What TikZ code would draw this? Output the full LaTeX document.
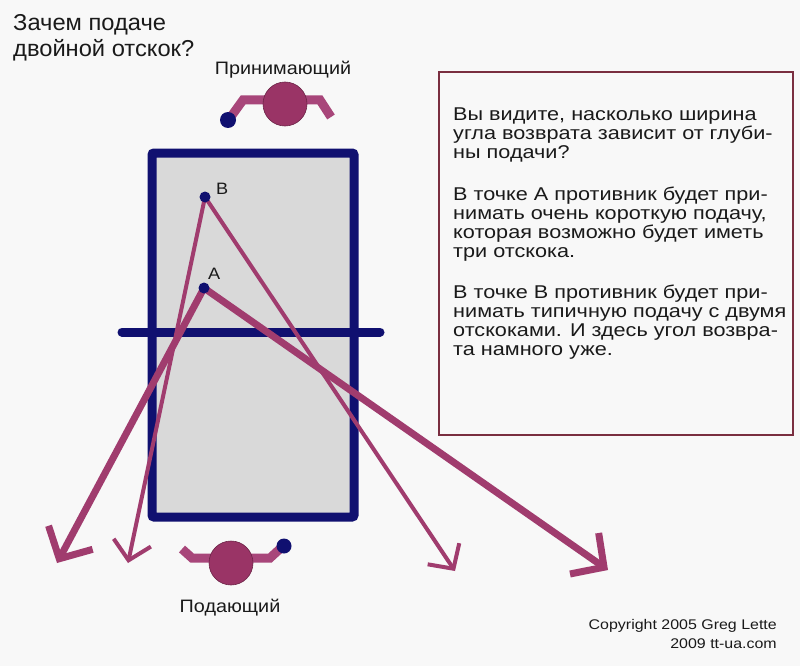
\documentclass[tikz,border=0pt]{standalone}
\usepackage{fontspec}
\setmainfont{Liberation Sans}
\newfontfamily\boxfont{Liberation Sans}[FakeStretch=1.17]
\newfontfamily\widefont{Liberation Sans}[FakeStretch=1.1]
\newfontfamily\copyfont{Liberation Sans}[FakeStretch=1.14]
\newfontfamily\titlefont{Liberation Sans}[FakeStretch=1.03]
\usetikzlibrary{arrows.meta}
\definecolor{bgc}{HTML}{F8F8F8}
\definecolor{navy}{HTML}{101070}
\definecolor{courtgray}{HTML}{D9D9D9}
\definecolor{plum}{HTML}{A03C6E}
\definecolor{plumarm}{HTML}{A8467A}
\definecolor{plumdark}{HTML}{9A3466}
\definecolor{boxred}{HTML}{7A2E40}
\definecolor{txt}{HTML}{1A1A1A}
\begin{document}
\begin{tikzpicture}[x=1pt,y=-1pt,
  court/.style={draw=navy,line width=9pt,fill=courtgray,rounded corners=2pt},
  netline/.style={draw=navy,line width=9pt,line cap=round},
  spot/.style={circle,fill=navy,inner sep=0pt,minimum size=11pt},
  thickpath/.style={draw=plum,line width=7pt,-{Straight Barb[length=24pt,width=50pt]}},
  thinpath/.style={draw=plum,line width=4pt,-{Straight Barb[length=18pt,width=38pt]}},
  body/.style={circle,fill=plumdark,draw=plumdark!70!black,line width=0.6pt,inner sep=0pt,minimum size=44pt},
  arm/.style={draw=plumarm,line width=9pt,line join=miter},
  ball/.style={circle,fill=navy,inner sep=0pt,minimum size=16pt},
  lbl/.style={font=\widefont\fontsize{18}{20}\selectfont,text=txt,inner sep=0pt},
  ptlbl/.style={font=\widefont\fontsize{16.5}{18}\selectfont,text=txt,inner sep=0pt},
]
\useasboundingbox[fill=bgc] (0,0) rectangle (800,666);

% title
\node[anchor=base west,align=left,inner sep=0pt,text=txt,font=\titlefont\fontsize{23}{26}\selectfont] (title) at (13,57) {Зачем подаче\\двойной отскок?};

% court
\draw[court] (152,153) rectangle (354,517);
\coordinate (netL) at (122,332);
\coordinate (netR) at (380,332);
\draw[netline] (netL) -- (netR);

% point positions
\coordinate (Bc) at (205,197);
\coordinate (Ac) at (204,288);

% ends
\coordinate (eAL) at (57,563);
\coordinate (eAR) at (608,570);
\coordinate (eBL) at (128,563);
\coordinate (eBR) at (455,571);

\draw[thinpath] (Bc) -- (eBL);
\draw[thinpath] (Bc) -- (eBR);
\draw[thickpath] (Ac) -- (eAL);
\draw[thickpath] (Ac) -- (eAR);

% points on top
\node[spot] (B) at (Bc) {};
\node[spot] (A) at (Ac) {};
\node[ptlbl,anchor=base west] (Blbl) at (216,194) {B};
\node[ptlbl,anchor=base west] (Albl) at (208,279) {A};

% receiver
\draw[arm] (270,100) -- (243,100) -- (230,118);
\draw[arm] (300,100) -- (320,100) -- (331,117);
\node[body] (recv) at (285,104) {};
\node[ball] (rball) at (228,120) {};
\node[lbl,anchor=base] (recvlbl) at (283,75) {Принимающий};

% server
\draw[arm] (215,558) -- (192,558) -- (182,549);
\draw[arm] (245,558) -- (270,558) -- (282,547);
\node[body] (serv) at (231,563) {};
\node[ball,minimum size=15pt] (sball) at (284,546) {};
\node[lbl,anchor=base] (servlbl) at (230,612) {Подающий};

% info box
\draw[boxred,line width=1.5pt] (439,72) rectangle (793,435);
\node[anchor=base west,align=left,inner sep=0pt,text=txt,font=\boxfont\fontsize{18.5}{19}\selectfont] (info) at (453,355)
{Вы видите, насколько ширина\\
угла возврата зависит от глуби-\\
ны подачи?\\[23pt]
В точке А противник будет при-\\
нимать очень короткую подачу,\\
которая возможно будет иметь\\
три отскока.\\[22pt]
В точке В противник будет при-\\
нимать типичную подачу с двумя\\
отскоками. И здесь угол возвра-\\
та намного уже.};

% copyright
\node[anchor=base east,align=right,inner sep=0pt,text=txt,font=\copyfont\fontsize{14}{19}\selectfont] (copy) at (777,648) {Copyright 2005 Greg Lette\\2009 tt-ua.com};
\end{tikzpicture}
\end{document}
